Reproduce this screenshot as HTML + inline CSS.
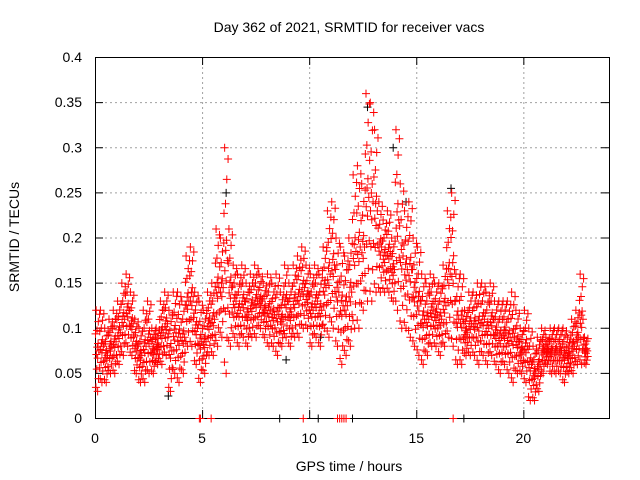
<!DOCTYPE html>
<html><head><meta charset="utf-8"><style>
body{margin:0;background:#fff}
svg{display:block;font-family:"Liberation Sans",sans-serif}
</style></head><body>
<svg id="c" width="640" height="480" viewBox="0 0 640 480"></svg>
<script>
const lo=[.03,.04,.04,.05,.05,.06,.07,.08,.07,.05,.04,.04,.05,.05,.06,.06,.07,.03,.05,.04,.05,.08,.08,.06,.04,.05,.07,.07,.08,.09,.05,.08,.09,.08,.09,.08,.09,.09,.10,.09,.08,.08,.07,.08,.09,.08,.09,.09,.10,.10,.08,.09,.08,.10,.09,.10,.08,.06,.07,.08,.10,.10,.12,.13,.13,.14,.14,.14,.14,.13,.12,.10,.10,.09,.08,.07,.06,.07,.08,.08,.07,.08,.09,.08,.06,.06,.07,.07,.07,.06,.07,.06,.07,.06,.05,.06,.05,.04,.05,.05,.04,.02,.02,.03,.05,.06,.05,.05,.05,.04,.05,.05,.06,.06,.06];
const hi=[.12,.12,.10,.11,.12,.13,.15,.16,.14,.11,.10,.12,.13,.10,.10,.13,.14,.12,.14,.14,.13,.18,.19,.14,.13,.12,.14,.15,.21,.20,.30,.21,.17,.16,.17,.15,.16,.17,.16,.15,.16,.15,.16,.14,.17,.15,.17,.18,.19,.17,.16,.17,.16,.19,.23,.24,.20,.19,.18,.20,.27,.28,.26,.36,.35,.32,.24,.22,.23,.20,.32,.26,.23,.24,.20,.19,.16,.15,.16,.15,.15,.17,.23,.25,.16,.16,.12,.14,.14,.15,.15,.14,.15,.13,.13,.13,.13,.14,.12,.10,.12,.10,.08,.09,.10,.09,.10,.10,.10,.10,.09,.11,.12,.16,.09];
const blackT=[6.1,12.7,13.9,16.6,14.5,3.4,8.9,10.5];
const blackV=[.25,.345,.30,.255,.24,.025,.065,.09];
const zeroRedT=[4.85,4.9,5.4,9.7,11.3,11.4,11.5,11.6,11.7,16.7];
const zeroBlackT=[8.6,10.4,12.0,17.2];
const xTicks=[0,5,10,15,20];
const yTicks=[0,0.05,0.1,0.15,0.2,0.25,0.3,0.35,0.4];
const yLabels=["0","0.05","0.1","0.15","0.2","0.25","0.3","0.35","0.4"];
const step=0.2;
const L=95,R=609,T=57,B=418;
const X=t=>L+(R-L)*t/24, Y=v=>B-(B-T)*v/0.4;
const svg=document.getElementById('c');const NS='http://www.w3.org/2000/svg';
function mk(tag,attrs,parent){const e=document.createElementNS(NS,tag);for(const k in attrs)e.setAttribute(k,attrs[k]);(parent||svg).appendChild(e);return e;}
const grid=mk('g',{stroke:'#a0a0a0','stroke-dasharray':'2,3','stroke-width':1});


const axes=mk('g',{stroke:'#000','stroke-width':1});


yTicks.forEach((v,i)=>{const y=Y(v)+.5;
 if(v>0&&v<0.4)mk('line',{x1:L,x2:R,y1:y,y2:y},grid);
 mk('line',{x1:L,x2:L+8,y1:y,y2:y},axes);mk('line',{x1:R-8,x2:R,y1:y,y2:y},axes);
 const t=mk('text',{x:82,y:Y(v)+5,'text-anchor':'end','font-size':14,fill:'#000'});t.textContent=yLabels[i];
 
 });
xTicks.forEach(v=>{const x=X(v)+.5;
 if(v>0)mk('line',{x1:x,x2:x,y1:T,y2:B},grid);
 mk('line',{x1:x,x2:x,y1:B-8,y2:B},axes);mk('line',{x1:x,x2:x,y1:T,y2:T+8},axes);
 const t=mk('text',{x:X(v),y:443,'text-anchor':'middle','font-size':14,fill:'#000'});t.textContent=String(v);
 
 });
const pts=mk('g',{'stroke-width':1});


function plus(t,v,c){const x=X(t)+.5,y=Y(v)+.5;
 const p=mk('path',{d:`M${x-4} ${y}H${x+4}M${x} ${y-4}V${y+4}`,stroke:c},pts);
 
 }
blackT.forEach((t,i)=>plus(t,blackV[i],'#000'));
zeroBlackT.forEach(t=>plus(t,0,'#000'));
const fr=[0,.12,.25,.33,.4,.45,.5,.55,.6,.67,.78,.9,1];
const tf=[.1,.7,.3,.9,.5,.2,.8,.4,.6,0,.35,.65,.95];
lo.forEach((l,k)=>{const h=hi[k];fr.forEach((f,j)=>{const ff=f<.5?f*f*2:1-(1-f)*(1-f)*2;const w=(j%3==0)?ff:f;plus((k+tf[j])*step,l+(h-l)*(0.5*w+0.5*(f*0.8+0.1)),'#f00');});plus((k+.5)*step,l,'#f00');plus((k+.15)*step,h,'#f00');});
zeroRedT.forEach(t=>plus(t,0,'#f00'));
mk('rect',{x:L+.5,y:T+.5,width:R-L,height:B-T,fill:'none',stroke:'#000'},axes);
const tt=mk('text',{x:349,y:32,'text-anchor':'middle','font-size':14});tt.textContent='Day 362 of 2021, SRMTID for receiver vacs';


const xl=mk('text',{x:349,y:471,'text-anchor':'middle','font-size':14});xl.textContent='GPS time / hours';


const yl=mk('text',{x:19,y:237,'text-anchor':'middle','font-size':14,transform:'rotate(-90 19 237)'});yl.textContent='SRMTID / TECUs';


</script>
</body></html>
